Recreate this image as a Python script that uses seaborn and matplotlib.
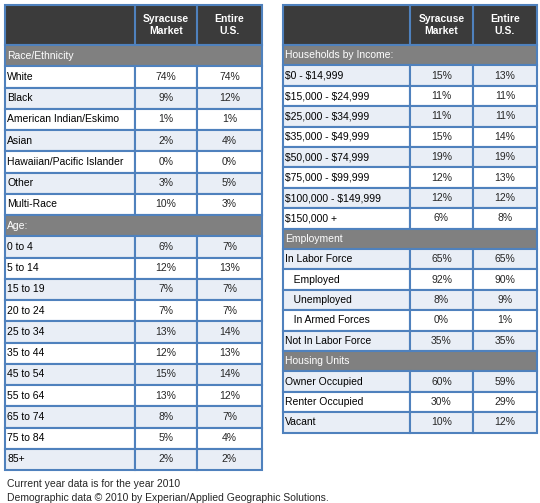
import matplotlib
matplotlib.use("Agg")
import matplotlib.pyplot as plt
import seaborn as sns
from matplotlib.patches import Rectangle

sns.set_style("white")
plt.rcParams['font.family'] = ['Liberation Sans', 'DejaVu Sans']
plt.rcParams['text.parse_math'] = False

col_headers = ["Syracuse\nMarket", "Entire\nU.S."]

left_sections = [
    ("Race/Ethnicity",
     ["White", "Black", "American Indian/Eskimo", "Asian", "Hawaiian/Pacific Islander", "Other", "Multi-Race"],
     [74, 9, 1, 2, 0, 3, 10],
     [74, 12, 1, 4, 0, 5, 3]),
    ("Age:",
     ["0 to 4", "5 to 14", "15 to 19", "20 to 24", "25 to 34", "35 to 44", "45 to 54", "55 to 64", "65 to 74", "75 to 84", "85+"],
     [6, 12, 7, 7, 13, 12, 15, 13, 8, 5, 2],
     [7, 13, 7, 7, 14, 13, 14, 12, 7, 4, 2]),
]
left_first_shaded = [False, True]
right_sections = [
    ("Households by Income:",
     ["$0 - $14,999", "$15,000 - $24,999", "$25,000 - $34,999", "$35,000 - $49,999", "$50,000 - $74,999",
      "$75,000 - $99,999", "$100,000 - $149,999", "$150,000 +"],
     [15, 11, 11, 15, 19, 12, 12, 6],
     [13, 11, 11, 14, 19, 13, 12, 8]),
    ("Employment",
     ["In Labor Force", "   Employed", "   Unemployed", "   In Armed Forces", "Not In Labor Force"],
     [65, 92, 8, 0, 35],
     [65, 90, 9, 1, 35]),
    ("Housing Units",
     ["Owner Occupied", "Renter Occupied", "Vacant"],
     [60, 30, 10],
     [59, 29, 12]),
]
right_first_shaded = [True, True, True]
notes = ["Current year data is for the year 2010",
         "Demographic data \u00a9 2010 by Experian/Applied Geographic Solutions."]

fig = plt.figure(figsize=(5.4, 5.03), dpi=100)
ax = fig.add_axes([0, 0, 1, 1])
ax.set_xlim(0, 540)
ax.set_ylim(503, 0)
ax.axis("off")

BORDER = "#4f81bd"
HDR = "#3b3b3b"
SEC = "#808080"
SHADE = "#e9eef6"
FS = 7.5

def draw_table(cols, top, hdr_h, row_h, sections, first_shaded):
    x0, x1, x2, x3 = cols
    ax.add_patch(Rectangle((x0, top), x3 - x0, hdr_h, fc=HDR, ec=BORDER, lw=1.5))
    for (a, b), t in zip([(x1, x2), (x2, x3)], col_headers):
        ax.text((a + b) / 2, top + hdr_h / 2, t, ha="center", va="center", color="white",
                fontsize=FS, fontweight="bold", linespacing=1.2)
    ax.plot([x1, x1], [top, top + hdr_h], color=BORDER, lw=1.5)
    ax.plot([x2, x2], [top, top + hdr_h], color=BORDER, lw=1.5)
    y = top + hdr_h
    for (title, labels, s, u), fs0 in zip(sections, first_shaded):
        ax.add_patch(Rectangle((x0, y), x3 - x0, row_h, fc=SEC, ec=BORDER, lw=1.5))
        ax.text(x0 + 2, y + row_h / 2, title, va="center", color="white", fontsize=FS)
        y += row_h
        for i, (lab, a, b) in enumerate(zip(labels, s, u)):
            shaded = (i % 2 == 0) == fs0
            fc = SHADE if shaded else "white"
            for (p, q) in [(x0, x1), (x1, x2), (x2, x3)]:
                ax.add_patch(Rectangle((p, y), q - p, row_h, fc=fc, ec=BORDER, lw=1.5))
            ax.text(x0 + 2, y + row_h / 2, lab, va="center", color="black", fontsize=FS)
            ax.text((x1 + x2) / 2, y + row_h / 2, f"{a}%", ha="center", va="center", fontsize=FS)
            ax.text((x2 + x3) / 2, y + row_h / 2, f"{b}%", ha="center", va="center", fontsize=FS)
            y += row_h
    return y

draw_table((5, 135, 197, 262), 5, 40, 21.25, left_sections, left_first_shaded)
draw_table((283, 410, 473, 537), 5, 40, 20.4, right_sections, right_first_shaded)

ax.text(7, 484, notes[0], va="center", fontsize=FS)
ax.text(7, 498, notes[1], va="center", fontsize=FS)

fig.savefig("out.png", dpi=100)
